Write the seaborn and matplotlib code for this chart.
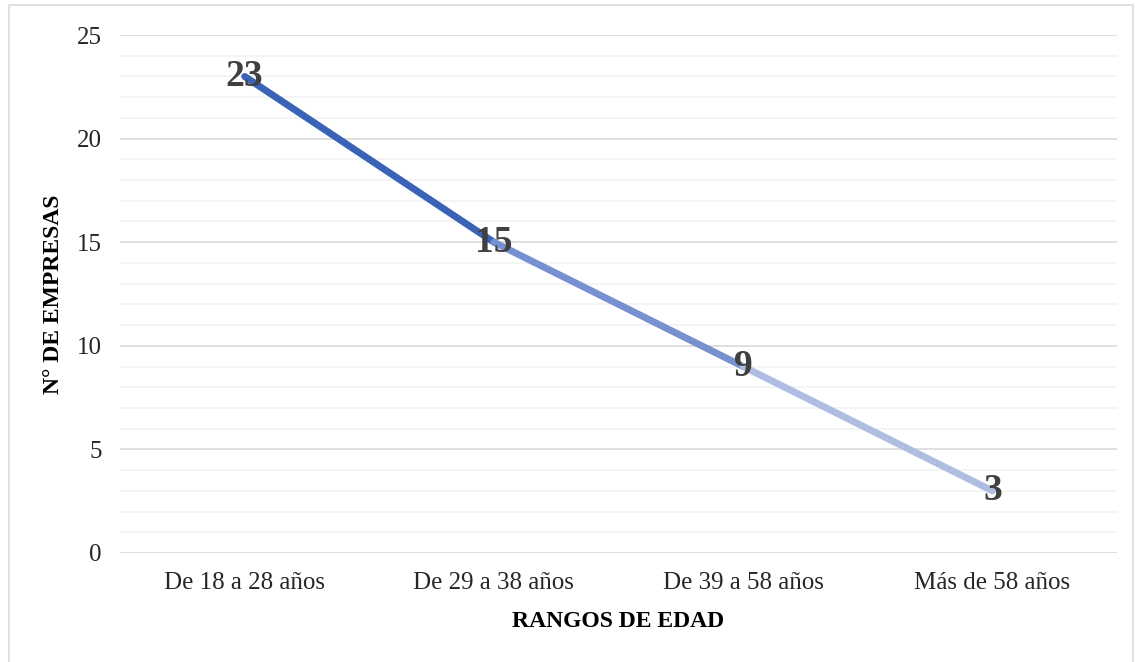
import matplotlib
matplotlib.use("Agg")
import matplotlib.pyplot as plt
import seaborn as sns
import pandas as pd
from matplotlib.patches import Rectangle
from matplotlib.ticker import MultipleLocator

categories = ["De 18 a 28 años", "De 29 a 38 años", "De 39 a 58 años", "Más de 58 años"]
empresas = [23, 15, 9, 3]
segment_colors = ["#3A63B8", "#7591D1", "#AFBDE3"]

sns.set_theme(style="white")
plt.rcParams["font.family"] = ["Liberation Serif", "DejaVu Serif"]

fig = plt.figure(figsize=(11.39, 6.62), dpi=100)
ax = fig.add_axes([0.1054, 0.1647, 0.8753, 0.7824])

# light outer frame of the chart area
fig.patches.append(Rectangle((9 / 1139, -0.01), 1124 / 1139, 1 - 5 / 662 + 0.01,
                             transform=fig.transFigure, fill=False,
                             edgecolor="#D9D9D9", linewidth=1.2))

pos = list(range(len(categories)))
for i, c in enumerate(segment_colors):
    seg = pd.DataFrame({"x": pos[i:i + 2], "y": empresas[i:i + 2]})
    sns.lineplot(data=seg, x="x", y="y", ax=ax, color=c, linewidth=5,
                 solid_capstyle="round", zorder=3)

for x, v in zip(pos, empresas):
    ax.text(x, v, str(v), ha="center", va="center", fontsize=27,
            fontweight="bold", color="#404040", zorder=4)

ax.set_xlim(-0.5, len(categories) - 0.5)
ax.set_ylim(0, 25)
ax.yaxis.set_major_locator(MultipleLocator(5))
ax.yaxis.set_minor_locator(MultipleLocator(1))
ax.set_xticks(pos)
ax.set_xticklabels(categories)
ax.grid(axis="y", which="major", color="#D9D9D9", linewidth=1.2)
ax.grid(axis="y", which="minor", color="#F2F2F2", linewidth=1.2)
ax.grid(axis="x", visible=False)
ax.set_axisbelow(True)
for s in ax.spines.values():
    s.set_visible(False)
ax.tick_params(axis="both", which="both", length=0, labelsize=18, labelcolor="#262626")
ax.tick_params(axis="y", pad=13)
ax.tick_params(axis="x", pad=14)

ax.set_xlabel("RANGOS DE EDAD", fontsize=17, fontweight="bold", color="#000000", labelpad=12)
ax.set_ylabel("N° DE EMPRESAS", fontsize=17, fontweight="bold", color="#000000", labelpad=9)

fig.savefig("out.png", dpi=100)
